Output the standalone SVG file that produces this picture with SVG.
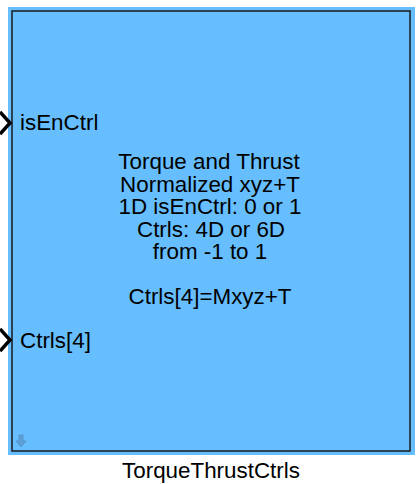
<svg xmlns="http://www.w3.org/2000/svg" width="419" height="484" viewBox="0 0 419 484">
<style>
text{font-family:"Liberation Sans",Arial,sans-serif;font-size:22.4px;fill:#000}
.c{text-anchor:middle}
.port{fill:none;stroke:#000;stroke-width:3.5}
</style>
<rect width="419" height="484" fill="#fff"/>
<g id="block">
<rect x="8" y="7" width="407" height="448" fill="#66BEFF"/>
<rect x="12" y="11" width="398" height="440" fill="#66BEFF" stroke="#1a1a1a" stroke-width="1.5"/>
<path d="M19 435 h4 v6 h3 l-5 6 l-5 -6 h3 z" fill="#5d9fd6" stroke="#5290c4" stroke-width="0.8"/>
<text class="c" x="209" y="169">Torque and Thrust</text>
<text class="c" x="210" y="192">Normalized xyz+T</text>
<text class="c" x="210" y="214">1D isEnCtrl: 0 or 1</text>
<text class="c" x="211" y="237">Ctrls: 4D or 6D</text>
<text class="c" x="210" y="259">from -1 to 1</text>
<text class="c" x="210" y="304">Ctrls[4]=Mxyz+T</text>
<text class="c" x="211" y="478">TorqueThrustCtrls</text>
</g>
<g id="port-isEnCtrl">
<path class="port" d="M0 112 L10 123 L0 134"/>
<text x="20" y="130">isEnCtrl</text>
</g>
<g id="port-Ctrls">
<path class="port" d="M0 329 L10 340 L0 351"/>
<text x="20" y="348">Ctrls[4]</text>
</g>
<g id="connectors"></g>
</svg>
